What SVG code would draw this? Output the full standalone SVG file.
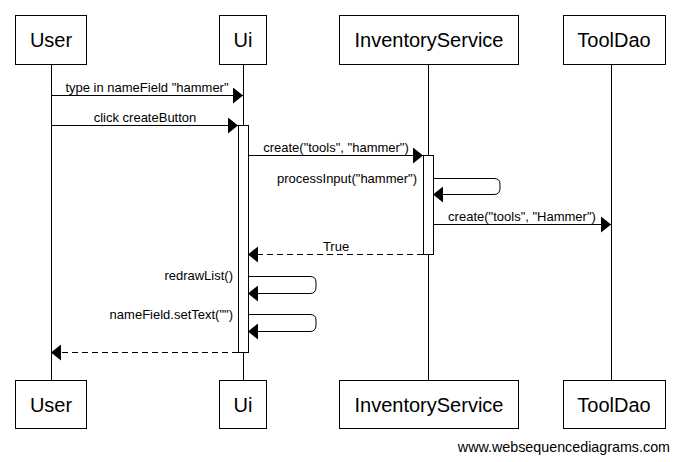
<svg xmlns="http://www.w3.org/2000/svg" width="678" height="462" viewBox="0 0 678 462">
<style>
.box{fill:#fff;stroke:#000;stroke-width:1}
.life{stroke:#000;stroke-width:1}
.act{fill:#fff;stroke:#000;stroke-width:1}
.name{font-family:"Liberation Sans",Arial,sans-serif;font-size:20px;text-anchor:middle;fill:#000}
.lbl{font-family:"Liberation Sans",Arial,sans-serif;font-size:13px;fill:#000}
.msg{fill:none;stroke:#000;stroke-width:1}
.dash{stroke-dasharray:6,4}
.wm{font-family:"Liberation Sans",Arial,sans-serif;font-size:14.3px;fill:#000;text-anchor:end}
</style>
<defs>
<marker id="ah" markerWidth="11" markerHeight="16" refX="10" refY="8" orient="auto" markerUnits="userSpaceOnUse">
<path d="M0,0 L10,8 L0,16 Z" fill="#000"/>
</marker>
</defs>
<rect width="678" height="462" fill="#fff"/>
<g id="lifelines">
<line class="life" x1="51.5" y1="64" x2="51.5" y2="380"/>
<line class="life" x1="243.5" y1="64" x2="243.5" y2="380"/>
<line class="life" x1="428.5" y1="64" x2="428.5" y2="380"/>
<line class="life" x1="611.5" y1="64" x2="611.5" y2="380"/>
</g>
<g id="User">
<rect class="box" x="15.5" y="15.5" width="71" height="49"/>
<text class="name" x="51" y="47">User</text>
<rect class="box" x="15.5" y="380.5" width="71" height="48"/>
<text class="name" x="51" y="412">User</text>
</g>
<g id="Ui">
<rect class="box" x="219.5" y="15.5" width="47" height="49"/>
<text class="name" x="243" y="47">Ui</text>
<rect class="box" x="219.5" y="380.5" width="47" height="48"/>
<text class="name" x="243" y="412">Ui</text>
<rect class="act" x="238.5" y="125.5" width="10" height="227"/>
</g>
<g id="InventoryService">
<rect class="box" x="339.5" y="15.5" width="179" height="49"/>
<text class="name" x="429" y="47">InventoryService</text>
<rect class="box" x="339.5" y="380.5" width="179" height="48"/>
<text class="name" x="429" y="412">InventoryService</text>
<rect class="act" x="423.5" y="155.5" width="10" height="99"/>
</g>
<g id="ToolDao">
<rect class="box" x="563.5" y="15.5" width="102" height="49"/>
<text class="name" x="614" y="47">ToolDao</text>
<rect class="box" x="563.5" y="380.5" width="102" height="48"/>
<text class="name" x="614" y="412">ToolDao</text>
</g>
<g id="connectors">
<line class="msg" x1="51" y1="95.5" x2="243" y2="95.5" marker-end="url(#ah)"/>
<text class="lbl" x="147" y="92" text-anchor="middle">type in nameField "hammer"</text>
<line class="msg" x1="51" y1="125.5" x2="238" y2="125.5" marker-end="url(#ah)"/>
<text class="lbl" x="145" y="122" text-anchor="middle">click createButton</text>
<line class="msg" x1="248" y1="155.5" x2="423" y2="155.5" marker-end="url(#ah)"/>
<text class="lbl" x="336" y="152" text-anchor="middle">create("tools", "hammer")</text>
<path class="msg" d="M433,178.5 H494 Q500,178.5 500,184 V188 Q500,194.5 494,194.5 H433" marker-end="url(#ah)"/>
<text class="lbl" x="417" y="183" text-anchor="end">processInput("hammer")</text>
<line class="msg" x1="433" y1="224.5" x2="611" y2="224.5" marker-end="url(#ah)"/>
<text class="lbl" x="522" y="221" text-anchor="middle">create("tools", "Hammer")</text>
<line class="msg dash" x1="423" y1="254.5" x2="248" y2="254.5" marker-end="url(#ah)"/>
<text class="lbl" x="336" y="251" text-anchor="middle">True</text>
<path class="msg" d="M248,276.5 H310 Q316,276.5 316,282 V287 Q316,293.5 310,293.5 H248" marker-end="url(#ah)"/>
<text class="lbl" x="233" y="280" text-anchor="end">redrawList()</text>
<path class="msg" d="M248,314.5 H310 Q316,314.5 316,320 V325 Q316,331.5 310,331.5 H248" marker-end="url(#ah)"/>
<text class="lbl" x="233" y="319" text-anchor="end">nameField.setText("")</text>
<line class="msg dash" x1="238" y1="352.5" x2="51" y2="352.5" marker-end="url(#ah)"/>
</g>
<text class="wm" x="670" y="452">www.websequencediagrams.com</text>
</svg>
